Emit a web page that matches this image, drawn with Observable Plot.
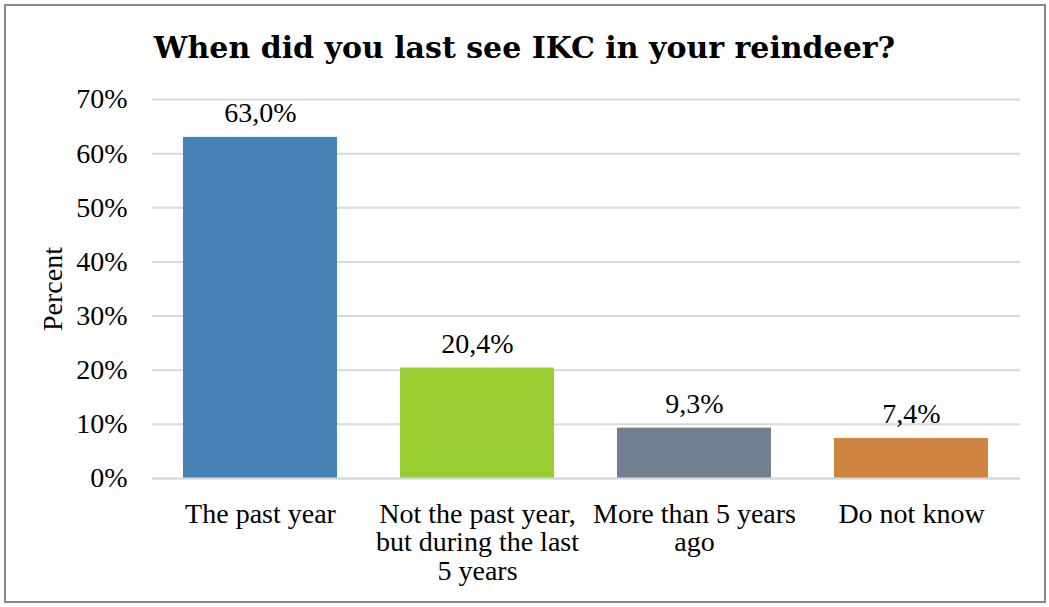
<!DOCTYPE html>
<html>
<head>
<meta charset="utf-8">
<script src="https://cdn.jsdelivr.net/npm/d3@7"></script>
<script src="https://cdn.jsdelivr.net/npm/@observablehq/plot@0.6"></script>
<style>
  body { margin: 0; background: #fff; }
  #frame { position: absolute; left: 4px; top: 4px; width: 1038px; height: 595px; border: 2px solid #8a8a8a; background: #fff; }
  #title { position: absolute; left: 0; top: 33px; width: 1049px; text-align: center; font-family: "DejaVu Serif", serif; font-weight: bold; font-size: 30px; line-height: 30px; color: #000; }
  #chart { position: absolute; left: 0; top: 80px; }
</style>
</head>
<body>
<div id="frame"></div>
<div id="title">When did you last see IKC in your reindeer?</div>
<div id="chart"></div>
<script>
const categories = ["The past year", "Not the past year, but during the last 5 years", "More than 5 years ago", "Do not know"];
const tickLabels = ["The past year", "Not the past year,\nbut during the last\n5 years", "More than 5 years\nago", "Do not know"];
const values = [63.0, 20.4, 9.3, 7.4];
const valueLabels = ["63,0%", "20,4%", "9,3%", "7,4%"];
const colors = ["#4682B4", "#9ACD32", "#708090", "#CD853F"];
const yTicks = [0, 10, 20, 30, 40, 50, 60, 70];

const data = categories.map((c, i) => ({category: c, value: values[i], label: valueLabels[i], color: colors[i]}));
const tickMap = new Map(categories.map((c, i) => [c, tickLabels[i]]));

const font = "Liberation Serif, serif";
const chart = Plot.plot({
  width: 1049,
  height: 527,
  marginTop: 19,
  marginBottom: 129,
  marginLeft: 152,
  marginRight: 29,
  style: {fontFamily: font, fontSize: "28px", color: "#000", background: "transparent"},
  x: {domain: categories, paddingInner: 0.29, paddingOuter: 0.145},
  y: {domain: [0, 70]},
  marks: [
    Plot.gridY(yTicks, {stroke: "#d9d9d9", strokeOpacity: 1, strokeWidth: 2}),
    Plot.barY(data, {x: "category", y: "value", fill: "color"}),
    Plot.ruleY([0], {stroke: "#d9d9d9", strokeWidth: 2}),
    Plot.text(data, {x: "category", y: "value", text: "label", dy: -24, fontSize: 28, fill: "#000"}),
    Plot.axisY({ticks: yTicks, tickFormat: d => d + "%", tickSize: 0, tickPadding: 25, fontSize: 28, label: "Percent", labelAnchor: "center", labelArrow: "none", labelOffset: 110}),
    Plot.axisX({tickSize: 0, tickPadding: 24, tickFormat: d => tickMap.get(d), fontSize: 28, lineHeight: 1.02, label: null, textAnchor: "middle"})
  ]
});
document.getElementById("chart").appendChild(chart);
</script>
</body>
</html>
